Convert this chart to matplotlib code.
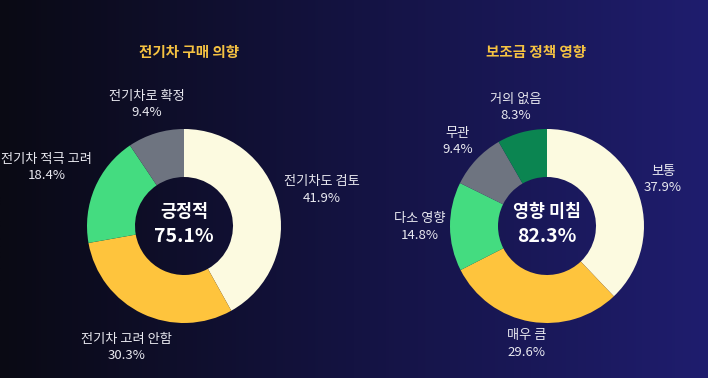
import numpy as np
import matplotlib; matplotlib.use("Agg")
import matplotlib.pyplot as plt
from matplotlib.colors import LinearSegmentedColormap

plt.rcParams["font.family"] = ["Noto Sans CJK KR", "DejaVu Sans"]

# ---- data ----
TITLES = ["전기차 구매 의향", "보조금 정책 영향"]
CENTER_NAMES = ["긍정적", "영향 미침"]
CENTER_VALUES = ["75.1%", "82.3%"]
LABELS_A = ["전기차도 검토", "전기차 고려 안함", "전기차 적극 고려", "전기차로 확정"]
VALUES_A = [41.9, 30.3, 18.4, 9.4]
LABELS_B = ["보통", "매우 큼", "다소 영향", "무관", "거의 없음"]
VALUES_B = [37.9, 29.6, 14.8, 9.4, 8.3]

COLORS = ["#FCFAE0", "#FEC43D", "#44DC80", "#6E7480", "#0B8551"]
TITLE_C = "#F5C242"; TEXT_C = "#E9E9F0"
W, H = 708, 378
R = 97; HOLE = 49

fig = plt.figure(figsize=(W / 100, H / 100), dpi=100)
ax = fig.add_axes([0, 0, 1, 1])
bg = LinearSegmentedColormap.from_list("bg", ["#0a0a14", "#141342", "#1f1d6e"])
ax.imshow(np.linspace(0, 1, 256)[None, :], cmap=bg, extent=[0, W, 0, H], aspect="auto", zorder=0)

renderer = fig.canvas.get_renderer()

def donut(cx, cy, labels, values, title, tx, cname, cval):
    wedges, _ = ax.pie(values, colors=COLORS[:len(values)], startangle=90, counterclock=False,
                       center=(cx, cy), radius=R, wedgeprops=dict(width=R - HOLE, linewidth=0))
    for w, lab, v in zip(wedges, labels, values):
        ang = np.deg2rad((w.theta1 + w.theta2) / 2)
        t = ax.text(0, 0, f"{lab}\n{v:.1f}%", ha="center", va="center", color=TEXT_C,
                    fontsize=9.5, linespacing=1.35, zorder=5)
        bb = t.get_window_extent(renderer)
        hw, hh = bb.width / 2, bb.height / 2
        d = 1.05 * R + hw * abs(np.cos(ang)) + hh * abs(np.sin(ang))
        t.set_position((cx + d * np.cos(ang), cy + d * np.sin(ang)))
    ax.text(tx, H - 52, title, ha="center", va="center", color=TITLE_C, fontsize=10.5, fontweight="bold")
    ax.text(cx, cy + 14, cname, ha="center", va="center", color="white", fontsize=12.5, fontweight="bold")
    ax.text(cx, cy - 11, cval, ha="center", va="center", color="white", fontsize=14, fontweight="bold")

donut(184, H - 226, LABELS_A, VALUES_A, TITLES[0], 189, CENTER_NAMES[0], CENTER_VALUES[0])
donut(547, H - 226, LABELS_B, VALUES_B, TITLES[1], 536, CENTER_NAMES[1], CENTER_VALUES[1])

ax.set_xlim(0, W); ax.set_ylim(0, H); ax.set_aspect("auto")
ax.axis("off")
fig.savefig("out.png", dpi=100)
